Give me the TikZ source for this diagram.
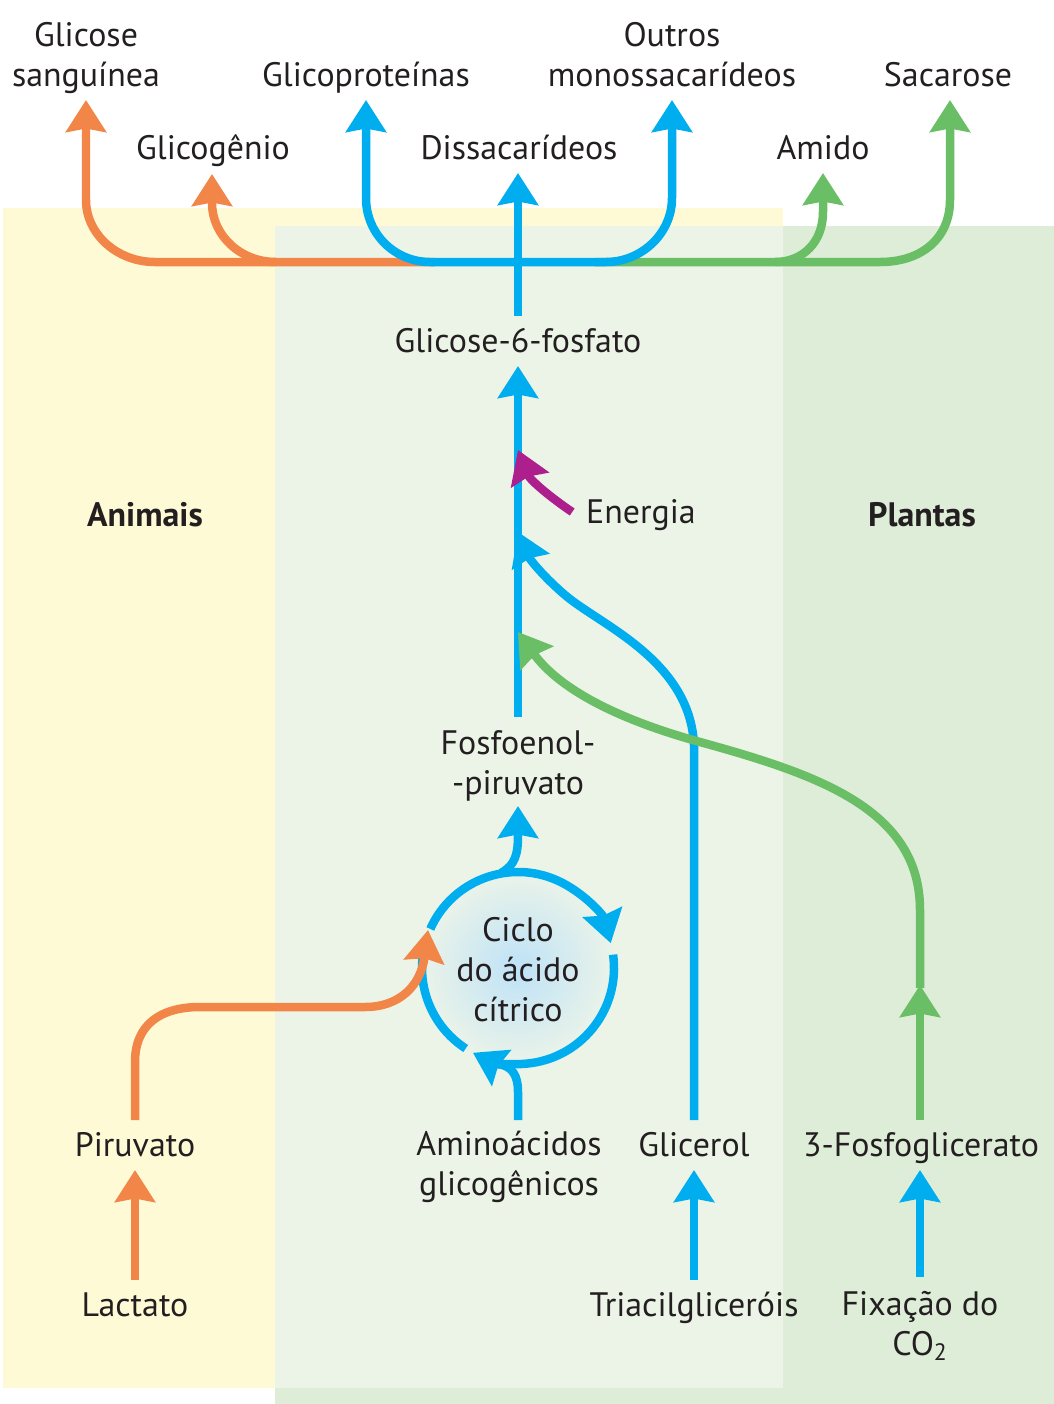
\documentclass[tikz,border=0pt]{standalone}
\usepackage{fontspec}
\setmainfont{PT Sans}
\usepackage{xcolor}
\definecolor{ink}{RGB}{35,31,32}
\definecolor{animalbg}{RGB}{255,250,214}
\definecolor{plantbg}{RGB}{222,237,216}
\definecolor{sharedbg}{RGB}{236,244,232}
\definecolor{cycglow}{RGB}{190,226,247}
\definecolor{fluxor}{RGB}{242,134,73}
\definecolor{fluxbl}{RGB}{0,174,239}
\definecolor{fluxgr}{RGB}{106,190,101}
\definecolor{fluxmg}{RGB}{172,31,141}
\usepackage{tikz}
\usetikzlibrary{arrows.meta,positioning,calc}
\tikzset{
  met/.style={font=\fontsize{19.3}{22.5}\selectfont, text=ink,
    inner sep=0pt, outer sep=0.28cm, anchor=base, align=center},
  met1/.style={met, text height=0.44cm, text depth=0pt},
  grp/.style={met1, font=\fontsize{19.3}{22.5}\selectfont\bfseries},
  pipe/.style={line width=0.17cm},
  flux/.style={pipe,
    -{Stealth[length=0.64cm,width=0.8cm,inset=0.07cm]}},
  flux_or/.style={flux,draw=fluxor,color=fluxor},
  flux_bl/.style={flux,draw=fluxbl,color=fluxbl},
  flux_gr/.style={flux,draw=fluxgr,color=fluxgr},
  flux_mg/.style={flux,draw=fluxmg,color=fluxmg},
}

\begin{document}
\begin{tikzpicture}[x=0.02cm,y=-0.02cm]
  \useasboundingbox (0,0) rectangle (1054,1404);
  % Organism panels
  \fill[animalbg] (3,208) rectangle (783,1388);
  \fill[plantbg] (275,226) rectangle (1054,1404);
  \fill[sharedbg] (275,226) rectangle (783,1388);
  \coordinate (cyc) at (518,968);
  \shade[inner color=cycglow,outer color=sharedbg] (cyc) circle (100);

  % Products
  \node (glcblood) [met] at (86,86) {Glicose\\sanguínea};
  \node (glycoprot) [met1] at (366,86) {Glicoproteínas};
  \node (othermono) [met] at (672,86) {Outros\\monossacarídeos};
  \node (sucrose) [met1] at (948,86) {Sacarose};
  \node (glycogen) [met1] at (213,159) {Glicogênio};
  \node (disacc) [met1] at (519,159) {Dissacarídeos};
  \node (starch) [met1] at (823,159) {Amido};
  % Gluconeogenesis
  \node (g6p) [met1] at (518,352) {Glicose-6-fosfato};
  \node (energy) [met1] at (641,523) {Energia};
  \node (animals) [grp] at (145,526) {Animais};
  \node (plants) [grp] at (922,526) {Plantas};
  \node (pep) [met] at (518,794) {Fosfoenol-\\-piruvato};
  \node (cycle) [met] at (518,1021) {Ciclo\\do ácido\\cítrico};
  % Precursors
  \node (pyr) [met1] at (135,1156) {Piruvato};
  \node (aa) [met] at (509,1195) {Aminoácidos\\glicogênicos};
  \node (glyc) [met1] at (694,1156) {Glicerol};
  \node (pga) [met1] at (921,1156) {3-Fosfoglicerato};
  \node (lact) [met1] at (135,1316) {Lactato};
  \node (tag) [met1] at (694,1316) {Triacilgliceróis};
  \node (co2) [met] at (920,1355) {Fixação do\\CO\textsubscript{2}};

  \coordinate (hub) at (518,262);
  \coordinate (pep_in) at (518,806);
  \coordinate (g6p_tg) at (518,532);
  \coordinate (g6p_pg) at (518,632);
  \coordinate (g6p_en) at (518,450);
  \coordinate (cyc_in) at (428,930);
  \coordinate (aa_out) at (518,1120);

  % Citric acid cycle
  \draw[flux_bl] (cyc) ++(204:96) arc[start angle=204,end angle=345,radius=96];
  \draw[flux_bl] (cyc) ++(-8:96) arc[start angle=-8,end angle=118,radius=96];
  \draw[pipe,fluxbl] (cyc) ++(123:96) arc[start angle=123,end angle=186,radius=96];
  \draw[pipe,fluxbl] (aa_out) -- (518,1092)
    .. controls (518,1075) and (512,1066) .. (498,1064);
  \draw[flux_bl] (501,873) .. controls (515,865) and (518,855) .. (518,835)
    -- (pep_in);

  % Lower inputs
  \draw[flux_or] (lact.north) -- (pyr.south);
  \draw[flux_bl] (tag.north) -- (glyc.south);
  \draw[flux_bl] (co2.north) -- (co2.north |- pga.south);
  \draw[flux_or] (pyr.north) -- (135,1062)
    .. controls (135,1025) and (160,1007) .. (200,1007) -- (365,1007)
    .. controls (400,1007) and (421,985) .. (cyc_in);

  % Towards glucose-6-phosphate
  \draw[flux_bl] (pep.north) -- (g6p.south);
  \draw[flux_bl] (glyc.north) -- (694,745)
    .. controls (690,660) and (600,625) .. (565,595)
    .. controls (545,578) and (530,560) .. (g6p_tg);
  \draw[flux_gr] (co2.north |- pga.north) -- (920,985);
  \draw[flux_gr] (920,988) -- (920,910)
    .. controls (920,810) and (820,775) .. (700,742)
    .. controls (620,720) and (560,690) .. (g6p_pg);
  \draw[flux_mg] (energy.west) .. controls (550,497) and (530,480) .. (g6p_en);

  % Branches to products
  \draw[flux_or] (435,262) -- (155,262)
    .. controls (117,262) and (86,234) .. (86,200) -- (glcblood.south |- glycoprot.south);
  \draw[flux_or] (276,262) .. controls (240,262) and (212,235) .. (212,203)
    -- (212,174);
  \draw[flux_gr] (595,262) -- (880,262)
    .. controls (922,262) and (950,238) .. (950,200) -- (950,100);
  \draw[flux_gr] (775,262) .. controls (803,262) and (823,242) .. (823,212)
    -- (starch.south);
  \draw[flux_bl] (hub) -- (430,262)
    .. controls (395,262) and (366,234) .. (366,198) -- (glycoprot.south);
  \draw[flux_bl] (hub) -- (606,262)
    .. controls (641,262) and (672,234) .. (672,198)
    -- (othermono.south |- glycoprot.south);
  \draw[flux_bl] (g6p.north) -- (g6p.north |- disacc.south);
\end{tikzpicture}
\end{document}
